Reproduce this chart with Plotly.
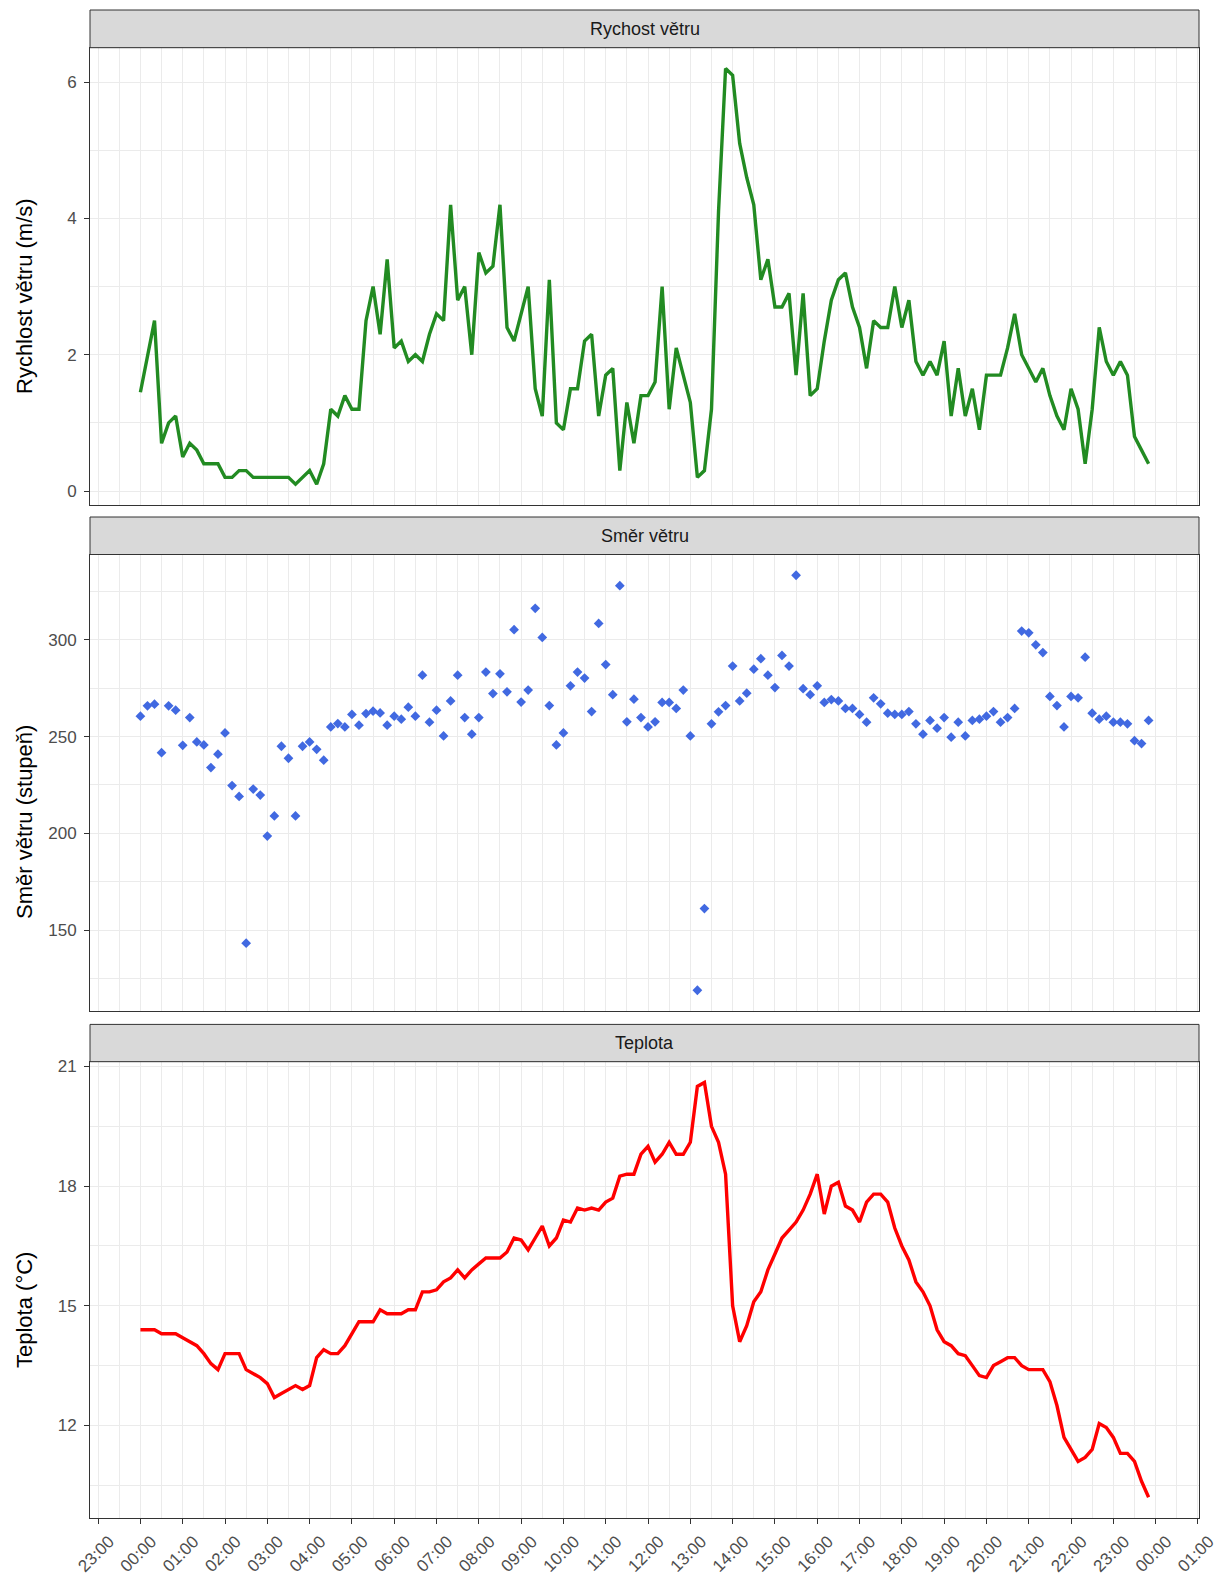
import plotly.graph_objects as go
from datetime import datetime

# ---------------- data ----------------
times = [f"2023-06-01 {h:02d}:{m:02d}" for h in range(24) for m in range(0, 60, 10)]

wind_speed = [
    1.45, 2.0, 2.5, 0.7, 1.0, 1.1, 0.5, 0.7, 0.6, 0.4,
    0.4, 0.4, 0.2, 0.2, 0.3, 0.3, 0.2, 0.2, 0.2, 0.2,
    0.2, 0.2, 0.1, 0.2, 0.3, 0.1, 0.4, 1.2, 1.1, 1.4,
    1.2, 1.2, 2.5, 3.0, 2.3, 3.4, 2.1, 2.2, 1.9, 2.0,
    1.9, 2.3, 2.6, 2.5, 4.2, 2.8, 3.0, 2.0, 3.5, 3.2,
    3.3, 4.2, 2.4, 2.2, 2.6, 3.0, 1.5, 1.1, 3.1, 1.0,
    0.9, 1.5, 1.5, 2.2, 2.3, 1.1, 1.7, 1.8, 0.3, 1.3,
    0.7, 1.4, 1.4, 1.6, 3.0, 1.2, 2.1, 1.7, 1.3, 0.2,
    0.3, 1.2, 4.1, 6.2, 6.1, 5.1, 4.6, 4.2, 3.1, 3.4,
    2.7, 2.7, 2.9, 1.7, 2.9, 1.4, 1.5, 2.2, 2.8, 3.1,
    3.2, 2.7, 2.4, 1.8, 2.5, 2.4, 2.4, 3.0, 2.4, 2.8,
    1.9, 1.7, 1.9, 1.7, 2.2, 1.1, 1.8, 1.1, 1.5, 0.9,
    1.7, 1.7, 1.7, 2.1, 2.6, 2.0, 1.8, 1.6, 1.8, 1.4,
    1.1, 0.9, 1.5, 1.2, 0.4, 1.2, 2.4, 1.9, 1.7, 1.9,
    1.7, 0.8, 0.6, 0.4,
]

wind_dir = [
    260.5, 265.9, 266.7, 241.7, 265.9, 263.6, 245.5, 259.8, 247.2, 245.7,
    234.0, 240.9, 251.9, 224.7, 219.1, 143.3, 222.9, 219.8, 198.6, 209.0,
    245.0, 238.8, 209.0, 245.0, 247.2, 243.4, 237.8, 255.0, 256.7, 255.0,
    261.4, 255.9, 261.9, 263.1, 262.2, 255.9, 260.5, 259.0, 265.2, 260.5,
    281.7, 257.4, 263.6, 250.3, 268.4, 281.7, 259.8, 251.2, 259.8, 283.3,
    272.2, 282.4, 273.1, 305.2, 267.8, 274.0, 316.2, 301.2, 266.0, 245.7,
    251.9, 276.2, 283.3, 280.2, 262.9, 308.4, 287.2, 271.6, 327.9, 257.6,
    269.3, 259.8, 255.0, 257.6, 267.6, 267.6, 264.5, 274.0, 250.3, 119.0,
    161.2, 256.6, 262.8, 266.0, 286.4, 268.4, 272.4, 284.8, 290.2, 281.7,
    275.3, 291.9, 286.4, 333.3, 274.7, 271.6, 276.2, 267.6, 269.1, 268.4,
    264.5, 264.5, 261.4, 257.4, 270.0, 266.9, 262.1, 261.4, 261.4, 262.9,
    256.6, 251.2, 258.3, 254.3, 259.8, 249.7, 257.4, 250.3, 258.3, 259.0,
    260.5, 262.9, 257.4, 259.8, 264.5, 304.5, 303.6, 297.4, 293.4, 270.7,
    266.0, 255.0, 270.7, 270.0, 291.0, 262.1, 259.0, 260.5, 257.4, 257.4,
    256.6, 247.9, 246.4, 258.3,
]

temperature = [
    14.4, 14.4, 14.4, 14.3, 14.3, 14.3, 14.2, 14.1, 14.0, 13.8,
    13.55, 13.4, 13.8, 13.8, 13.8, 13.4, 13.3, 13.2, 13.05, 12.7,
    12.8, 12.9, 13.0, 12.9, 13.0, 13.7, 13.9, 13.8, 13.8, 14.0,
    14.3, 14.6, 14.6, 14.6, 14.9, 14.8, 14.8, 14.8, 14.9, 14.9,
    15.35, 15.35, 15.4, 15.6, 15.7, 15.9, 15.7, 15.9, 16.05, 16.2,
    16.2, 16.2, 16.35, 16.7, 16.65, 16.4, 16.7, 17.0, 16.5, 16.7,
    17.15, 17.1, 17.45, 17.4, 17.45, 17.4, 17.6, 17.7, 18.25, 18.3,
    18.3, 18.8, 19.0, 18.6, 18.8, 19.1, 18.8, 18.8, 19.1, 20.5,
    20.6, 19.5, 19.1, 18.3, 15.0, 14.1, 14.5, 15.1, 15.35, 15.9,
    16.3, 16.7, 16.9, 17.1, 17.4, 17.8, 18.3, 17.3, 18.0, 18.1,
    17.5, 17.4, 17.1, 17.6, 17.8, 17.8, 17.6, 16.95, 16.5, 16.15,
    15.6, 15.35, 15.0, 14.4, 14.1, 14.0, 13.8, 13.75, 13.5, 13.25,
    13.2, 13.5, 13.6, 13.7, 13.7, 13.5, 13.4, 13.4, 13.4, 13.1,
    12.5, 11.7, 11.4, 11.1, 11.2, 11.4, 12.05, 11.95, 11.7, 11.3,
    11.3, 11.1, 10.6, 10.2,
]

panel_titles = ["Rychost větru", "Směr větru", "Teplota"]
y_titles = ["Rychlost větru (m/s)", "Směr větru (stupeň)", "Teplota (°C)"]
y_major = [2, 50, 3]
y_minor = [1, 25, 1.5]

# ---------------- layout geometry (pixels) ----------------
W, H = 1222, 1581
ML, MR, MT, MB = 90, 23, 10, 63
PH = H - MT - MB
PW = W - ML - MR

def py(px):
    return (H - MB - px) / PH

# (strip_top, panel_top, panel_bottom)
panels_px = [(10, 47.7, 505), (517, 554.5, 1011), (1024.4, 1061.7, 1518)]
# vertical centre of each y-axis title (pixels)
ytitle_px = [296, 822, 1310]

FONT = "Liberation Sans, Arial, sans-serif"
GRID = "#EBEBEB"
BORDER = "#333333"
TICKCOL = "#4D4D4D"

fmt = "%Y-%m-%d %H:%M"
t0 = datetime.strptime(times[0], fmt)
t1 = datetime.strptime(times[-1], fmt)
span = t1 - t0
xr = [(t0 - span * 0.05).strftime("%Y-%m-%d %H:%M:%S"),
      (t1 + span * 0.05).strftime("%Y-%m-%d %H:%M:%S")]

def yrange(vals):
    lo, hi = min(vals), max(vals)
    d = (hi - lo) * 0.05
    return [lo - d, hi + d]

series = [wind_speed, wind_dir, temperature]

fig = go.Figure()
fig.add_trace(go.Scatter(x=times, y=wind_speed, mode="lines",
                         line=dict(color="#228B22", width=3.4),
                         xaxis="x", yaxis="y", showlegend=False, hoverinfo="skip"))
fig.add_trace(go.Scatter(x=times, y=wind_dir, mode="markers",
                         marker=dict(symbol="diamond", color="#4169E1", size=7.5, line=dict(width=0)),
                         xaxis="x2", yaxis="y2", showlegend=False, hoverinfo="skip"))
fig.add_trace(go.Scatter(x=times, y=temperature, mode="lines",
                         line=dict(color="#FF0000", width=3.4),
                         xaxis="x3", yaxis="y3", showlegend=False, hoverinfo="skip"))

layout = dict(
    width=W, height=H,
    margin=dict(l=ML, r=MR, t=MT, b=MB, pad=0, autoexpand=False),
    paper_bgcolor="white", plot_bgcolor="white",
    font=dict(family=FONT, size=17, color=TICKCOL),
    showlegend=False,
)

shapes = []
annotations = []
for k in range(3):
    st, pt, pb = panels_px[k]
    sfx = "" if k == 0 else str(k + 1)
    is_bottom = k == 2
    layout["xaxis" + sfx] = dict(
        type="date", range=xr, domain=[0, 1], anchor="y" + sfx, automargin=False,
        tick0="2023-05-31 23:00", dtick=3600000, tickformat="%H:%M",
        showgrid=True, gridcolor=GRID, gridwidth=1,
        minor=dict(dtick=1800000, showgrid=True, gridcolor=GRID, gridwidth=0.8, ticks=""),
        showline=True, linecolor=BORDER, linewidth=1, mirror=True,
        zeroline=False,
        showticklabels=is_bottom,
        ticks="outside" if is_bottom else "", ticklen=5, tickwidth=1, tickcolor=BORDER,
        tickangle=-45 if is_bottom else 0,
        ticklabelshift=11 if is_bottom else 0,
        ticklabelstandoff=1 if is_bottom else 0,
        tickfont=dict(size=17, color=TICKCOL, family=FONT),
    )
    layout["yaxis" + sfx] = dict(
        domain=[py(pb), py(pt)], anchor="x" + sfx, automargin=False,
        range=yrange(series[k]),
        tick0=0, dtick=y_major[k],
        showgrid=True, gridcolor=GRID, gridwidth=1,
        minor=dict(tick0=0, dtick=y_minor[k], showgrid=True, gridcolor=GRID, gridwidth=0.8, ticks=""),
        showline=True, linecolor=BORDER, linewidth=1, mirror=True,
        zeroline=False,
        ticks="outside", ticklen=5, tickwidth=1, tickcolor=BORDER,
        ticklabelstandoff=4,
        tickfont=dict(size=17, color=TICKCOL, family=FONT),
    )
    # strip
    shapes.append(dict(type="rect", xref="paper", yref="paper", x0=0, x1=1,
                       y0=py(pt), y1=py(st), fillcolor="#D9D9D9",
                       line=dict(color=BORDER, width=1), layer="above"))
    annotations.append(dict(text=panel_titles[k], xref="paper", yref="paper",
                            x=0.5, y=(py(pt) + py(st)) / 2, xanchor="center", yanchor="middle",
                            showarrow=False, font=dict(size=18, color="#1A1A1A", family=FONT)))
    # y title
    annotations.append(dict(text=y_titles[k], xref="paper", yref="paper",
                            x=(24 - ML) / PW, y=py(ytitle_px[k]),
                            xanchor="center", yanchor="middle", textangle=-90,
                            showarrow=False, font=dict(size=22, color="black", family=FONT)))

layout["shapes"] = shapes
layout["annotations"] = annotations
fig.update_layout(**layout)

fig.write_html("out.html")
